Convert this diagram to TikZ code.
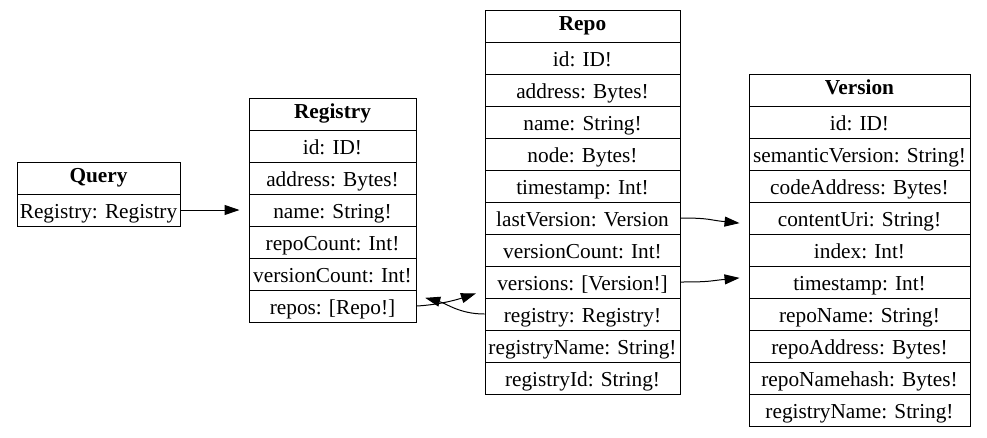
\documentclass[tikz,border=0pt]{standalone}
\usepackage{fontspec}
\setmainfont{Liberation Serif}
\usetikzlibrary{arrows.meta,calc}
\definecolor{ink}{HTML}{000000}

\begin{document}
\begin{tikzpicture}[x=1pt, y=-1pt, font=\fontsize{21.3}{25}\selectfont,
    field/.style={draw=ink, line width=1pt, minimum height=32pt, inner sep=0pt, text=ink,
      text height=20pt, text depth=3pt},
    head/.style={field, font=\fontsize{21.3}{25}\selectfont\bfseries, text height=12pt, text depth=3pt},
    link/.style={ink, line width=1pt, -{Triangle[length=15pt,width=10pt]}, shorten >=9pt}]
    \useasboundingbox (0,0) rectangle (987,437);
    % Query record.
    \node[head, minimum width=163pt] (qry) at (98.5,178) {Query};
    \node[field, minimum width=163pt] (qry-registry) at (98.5,210) {Registry: Registry};
    % Registry record.
    \node[head, minimum width=167pt] (reg) at (332.5,114) {Registry};
    \foreach \n/\t [count=\k] in {id/{id: ID!}, address/{address: Bytes!}, name/{name: String!},
        repoCount/{repoCount: Int!}, versionCount/{versionCount: Int!}, repos/{repos: [Repo!]}} {
      \node[field, minimum width=167pt] (reg-\n) at (332.5,{114+32*\k}) {\t};
    }
    % Repo record.
    \node[head, minimum width=195pt] (repo) at (582.5,26) {Repo};
    \foreach \n/\t [count=\k] in {id/{id: ID!}, address/{address: Bytes!}, name/{name: String!},
        node/{node: Bytes!}, timestamp/{timestamp: Int!}, lastVersion/{lastVersion: Version},
        versionCount/{versionCount: Int!}, versions/{versions: [Version!]},
        registry/{registry: Registry!}, registryName/{registryName: String!},
        registryId/{registryId: String!}} {
      \node[field, minimum width=195pt] (repo-\n) at (582.5,{26+32*\k}) {\t};
    }
    % Version record.
    \node[head, minimum width=221pt] (ver) at (859.5,90) {Version};
    \foreach \n/\t [count=\k] in {id/{id: ID!}, semanticVersion/{semanticVersion: String!},
        codeAddress/{codeAddress: Bytes!}, contentUri/{contentUri: String!}, index/{index: Int!},
        timestamp/{timestamp: Int!}, repoName/{repoName: String!}, repoAddress/{repoAddress: Bytes!},
        repoNamehash/{repoNamehash: Bytes!}, registryName/{registryName: String!}} {
      \node[field, minimum width=221pt] (ver-\n) at (859.5,{90+32*\k}) {\t};
    }
    % References between the records.
    \draw[link] (qry-registry.east) -- (reg-name.west);
    \draw[link] (reg-repos.east) .. controls +(20,-1) and +(-30,10) .. ([yshift=8pt]repo-versions.south west);
    \draw[link] (repo-registry.west) .. controls +(-25,0) and +(30,8) .. ([yshift=-6pt]reg-repos.north east);
    \draw[link] (repo-lastVersion.east) .. controls +(30,0) and +(-40,-4) .. ([yshift=-6pt]ver-contentUri.west);
    \draw[link] (repo-versions.east) .. controls +(30,0) and +(-40,4) .. ([yshift=5pt]ver-timestamp.west);
\end{tikzpicture}
\end{document}
